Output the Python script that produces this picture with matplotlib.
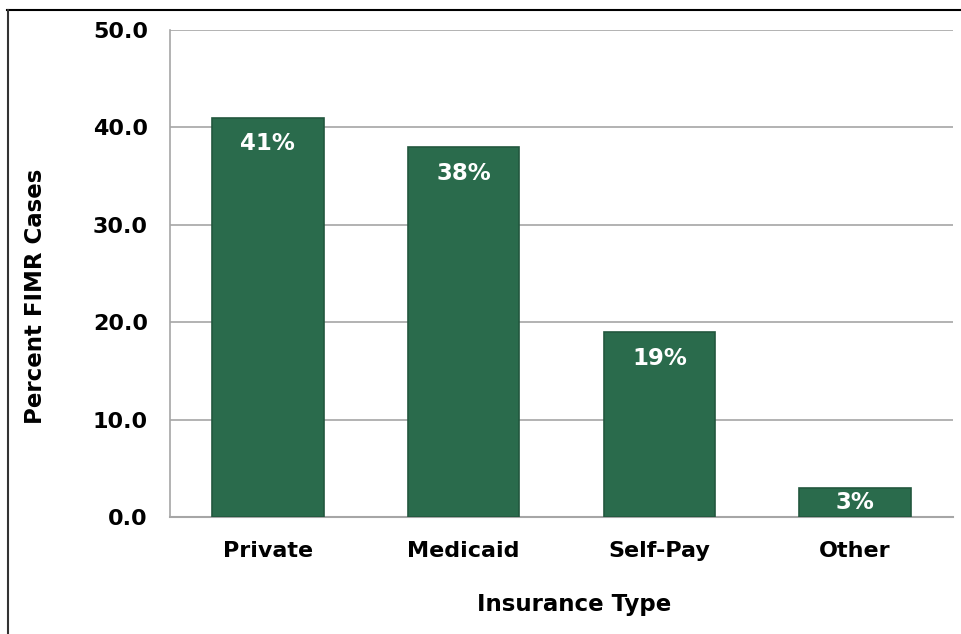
import matplotlib
matplotlib.use("Agg")
import matplotlib.pyplot as plt
from matplotlib.lines import Line2D

categories = ["Private", "Medicaid", "Self-Pay", "Other"]
values = [41, 38, 19, 3]
labels = ["41%", "38%", "19%", "3%"]
yticks = [0.0, 10.0, 20.0, 30.0, 40.0, 50.0]

plt.rcParams['font.family'] = ['DejaVu Sans']
plt.rcParams['font.weight'] = 'bold'

fig = plt.figure(figsize=(9.61, 6.34), dpi=100)
W, H = 961, 634
ax = fig.add_axes([170 / W, 1 - 517 / H, (953 - 170) / W, (517 - 30) / H])

x = list(range(len(categories)))
bars = ax.bar(x, values, width=0.57, color="#2A6B4C", edgecolor="#22573E", linewidth=1.2, zorder=3)

for b, v, lab in zip(bars, values, labels):
    ypos = max(v - 2.7, v / 2)
    ax.text(b.get_x() + b.get_width() / 2, ypos, lab,
            ha="center", va="center", color="white", fontsize=16.5, fontweight="heavy", zorder=4)

ax.set_xlim(-0.5, len(categories) - 0.5)
ax.set_ylim(0, 50)
ax.set_yticks(yticks)
ax.set_yticklabels([f"{v:.1f}" for v in yticks])
ax.set_xticks(x)
ax.set_xticklabels(categories)
ax.tick_params(axis="both", length=0)
ax.tick_params(axis="y", pad=16, labelsize=16)
ax.tick_params(axis="x", pad=17, labelsize=16)
for t in ax.get_xticklabels() + ax.get_yticklabels():
    t.set_fontweight("heavy")

ax.yaxis.grid(True, color="#A6A6A6", linewidth=1.2, zorder=0)
ax.set_axisbelow(True)
for s in ["top", "right"]:
    ax.spines[s].set_visible(False)
ax.spines["left"].set_color("#A6A6A6")
ax.spines["bottom"].set_color("#A6A6A6")
ax.spines["left"].set_linewidth(1.2)
ax.spines["bottom"].set_linewidth(1.5)

fig.text(36 / W, 1 - 296 / H, "Percent FIMR Cases", rotation=90, ha="center", va="center",
         fontsize=16.5, fontweight="heavy")
fig.text(574 / W, 1 - 605 / H, "Insurance Type", ha="center", va="center",
         fontsize=16.5, fontweight="heavy")

# outer frame lines (top and left)
fig.add_artist(Line2D([7 / W, 1.0], [1 - 9.5 / H, 1 - 9.5 / H], color="black", linewidth=1.5, transform=fig.transFigure))
fig.add_artist(Line2D([7.5 / W, 7.5 / W], [0.0, 1 - 9.5 / H], color="#333333", linewidth=1.5, transform=fig.transFigure))

fig.savefig("out.png", dpi=100)
